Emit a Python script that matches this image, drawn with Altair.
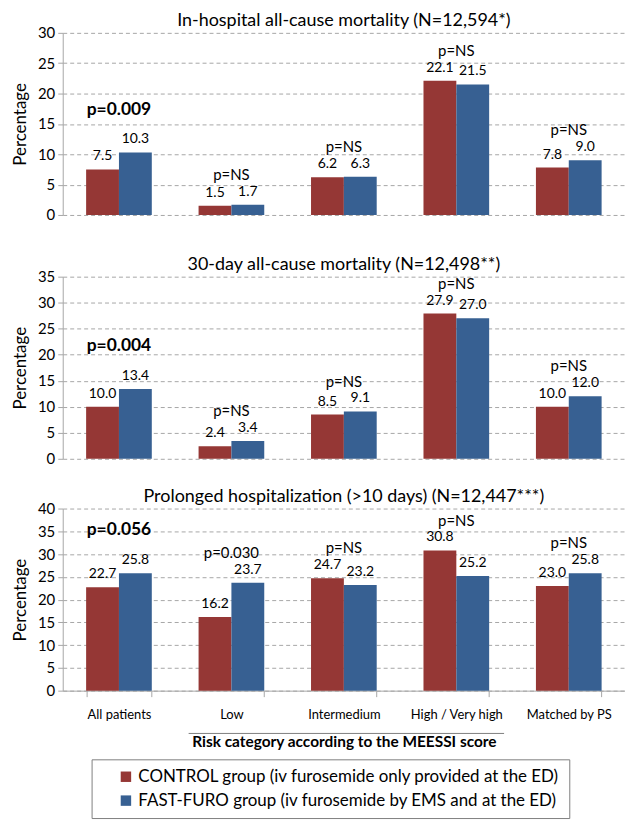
import altair as alt
import pandas as pd

FONT = "Lato"

categories = ["All patients", "Low", "Intermedium", "High / Very high", "Matched by PS"]
groups = ["CONTROL group (iv furosemide only provided at the ED)",
          "FAST-FURO group (iv furosemide by EMS and at the ED)"]
group_colors = ["#953735", "#376092"]

inhosp_control = [7.5, 1.5, 6.2, 22.1, 7.8]
inhosp_fastfuro = [10.3, 1.7, 6.3, 21.5, 9.0]
inhosp_p = ["p=0.009", "p=NS", "p=NS", "p=NS", "p=NS"]

d30_control = [10.0, 2.4, 8.5, 27.9, 10.0]
d30_fastfuro = [13.4, 3.4, 9.1, 27.0, 12.0]
d30_p = ["p=0.004", "p=NS", "p=NS", "p=NS", "p=NS"]

prolonged_control = [22.7, 16.2, 24.7, 30.8, 23.0]
prolonged_fastfuro = [25.8, 23.7, 23.2, 25.2, 25.8]
prolonged_p = ["p=0.056", "p=0.030", "p=NS", "p=NS", "p=NS"]

p_bold = [True, False, False, False, False]

panel_titles = ["In-hospital all-cause mortality (N=12,594*)",
                "30-day all-cause mortality (N=12,498**)",
                "Prolonged hospitalization (>10 days) (N=12,447***)"]
panel_ymax = [30, 35, 40]
x_title = "Risk category according to the MEESSI score"
bracket_from = "Low"
bracket_to = "High / Very high"

GRID = "#A6A6A6"
W, H = 565, 183


def panel(title, control, fastfuro, pvals, ymax, bottom):
    rows = []
    for c, a, b in zip(categories, control, fastfuro):
        rows.append({"category": c, "group": groups[0], "value": a})
        rows.append({"category": c, "group": groups[1], "value": b})
    df = pd.DataFrame(rows)
    pdf = pd.DataFrame({
        "category": categories,
        "p": pvals,
        "top": [max(a, b) for a, b in zip(control, fastfuro)],
        "bold": p_bold,
    })

    x_scale = alt.Scale(domain=categories, paddingInner=0.416, paddingOuter=0.208)
    if bottom:
        x_axis = alt.Axis(title=x_title, labelAngle=0, labelFontSize=13, labelFont=FONT,
                          labelColor="#000", tickBand="extent", tickSize=6, tickColor=GRID,
                          domainColor=GRID, labelPadding=12, titleFont=FONT,
                          titleFontSize=15.5, titleFontWeight="bold", titleColor="#000",
                          titlePadding=13)
    else:
        x_axis = None
    x = alt.X("category:N", scale=x_scale, axis=x_axis)
    xo = alt.XOffset("group:N", scale=alt.Scale(domain=groups, paddingInner=0, paddingOuter=0))
    y_scale = alt.Scale(domain=[0, ymax], nice=False)
    y_axis = alt.Axis(values=list(range(0, ymax + 1, 5)), title="Percentage",
                      grid=True, gridDash=[4, 3], gridColor=GRID, domainColor=GRID,
                      tickColor=GRID, tickSize=5, labelFontSize=15, labelFont=FONT,
                      labelColor="#000", labelPadding=3, labelOverlap=False,
                      titleFont=FONT, titleFontSize=17, titleFontWeight="normal",
                      titleColor="#000", titlePadding=8)

    base = alt.Chart(df)
    bars = base.mark_bar().encode(
        x=x, xOffset=xo, y=alt.Y("value:Q", scale=y_scale, axis=y_axis),
        color=alt.Color("group:N", scale=alt.Scale(domain=groups, range=group_colors),
                        legend=alt.Legend(orient="none", legendX=29, legendY=730, title=None,
                                          direction="vertical", strokeColor="#7F7F7F",
                                          padding=9, labelFontSize=17, labelFont=FONT,
                                          labelColor="#000", labelLimit=700,
                                          symbolType="square", symbolSize=110,
                                          symbolOffset=17, labelOffset=4,
                                          symbolStrokeWidth=0, rowPadding=6)))
    vals = base.mark_text(dy=-13, fontSize=14, font=FONT, color="#000").encode(
        x=x, xOffset=xo, y=alt.Y("value:Q", scale=y_scale, axis=y_axis),
        text=alt.Text("value:Q", format=".1f"))
    pbase = alt.Chart(pdf)
    p_reg = pbase.transform_filter("!datum.bold").mark_text(
        dy=-30, fontSize=15, font=FONT, color="#000").encode(
        x=alt.X("category:N", scale=x_scale, axis=x_axis),
        y=alt.Y("top:Q", scale=y_scale, axis=y_axis), text="p:N")
    p_b = pbase.transform_filter("datum.bold").mark_text(
        dy=-43, fontSize=17.5, font=FONT, fontWeight="bold", color="#000").encode(
        x=alt.X("category:N", scale=x_scale, axis=x_axis),
        y=alt.Y("top:Q", scale=y_scale, axis=y_axis), text="p:N")
    layers = [bars, vals, p_reg, p_b]
    if bottom:
        bdf = pd.DataFrame({"start": [bracket_from], "end": [bracket_to]})
        bracket = alt.Chart(bdf).mark_rule(color="#7F7F7F", strokeWidth=1,
                                           xOffset=-10, x2Offset=15).encode(
            x=alt.X("start:N", scale=x_scale, bandPosition=0, axis=x_axis),
            x2=alt.X2("end:N", bandPosition=1),
            y=alt.value(H + 43))
        layers.append(bracket)
    return alt.layer(*layers).properties(
        width=W, height=H,
        title=alt.TitleParams(text=title, fontSize=18, fontWeight="normal", font=FONT,
                              color="#000", offset=-4, frame="group", anchor="middle"))


p1 = panel(panel_titles[0], inhosp_control, inhosp_fastfuro, inhosp_p, panel_ymax[0], False)
p2 = panel(panel_titles[1], d30_control, d30_fastfuro, d30_p, panel_ymax[1], False)
p3 = panel(panel_titles[2], prolonged_control, prolonged_fastfuro, prolonged_p, panel_ymax[2], True)

chart = alt.vconcat(alt.vconcat(p1, p2, spacing=33), p3, spacing=21).properties(
    padding={"left": 3, "top": 2, "right": 0, "bottom": 0}
).configure_view(stroke=None)

chart.save("out.html", embed_options={"renderer": "svg", "actions": False})
